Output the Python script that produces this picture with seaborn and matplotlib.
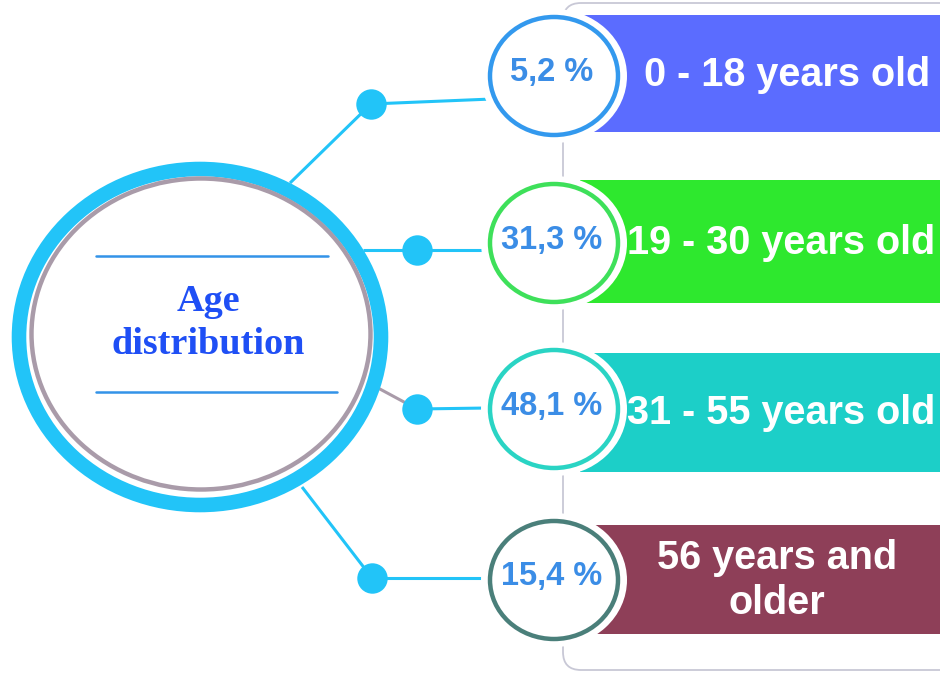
"""
Age distribution infographic - big hub circle, four connectors,
percentage bubbles and coloured label bars.
"""

import matplotlib

matplotlib.use("Agg")

import matplotlib.pyplot as plt
import pandas as pd
import seaborn as sns
from matplotlib.patches import Ellipse, FancyBboxPatch

# -----------------------------------------------------------------------------
# Data
# -----------------------------------------------------------------------------
TITLE = "Age\ndistribution"
AGE_GROUPS = ["0 - 18 years old", "19 - 30 years old", "31 - 55 years old", "56 years and\nolder"]
SHARES = [5.2, 31.3, 48.1, 15.4]
BAR_COLORS = ["#5b6cff", "#2ee82e", "#1ccfc8", "#8e3f58"]
RING_COLORS = ["#3399ee", "#3ee05a", "#2ad4c4", "#4a7f7a"]

# -----------------------------------------------------------------------------
# Layout (pixel space of a 940 x 674 canvas)
# -----------------------------------------------------------------------------
W, H = 940, 674
HUB_BLUE = "#22c4f8"
HUB_GREY = "#a99ba9"
TEXT_BLUE = "#3b8de6"

row_y = [76, 243, 409, 580]
bar_top = [15, 180, 353, 525]
bar_bottom = [132, 303, 472, 634]
label_x = [787, 781, 781, 777]
bubble_x = 554
bar_x0 = 580

# connector: start on hub, dot, end on bubble
connectors = [
    ((290, 183), (371, 104), (492, 99)),
    ((363, 250), (417, 250), (490, 250)),
    ((378, 388), (417, 409), (488, 408)),
    ((302, 487), (372, 578), (490, 578)),
]


def fmt_share(v):
    return f"{v:.1f}".replace(".", ",") + " %"


def main():
    sns.set_theme(style="white")
    plt.rcParams["font.family"] = ["Liberation Sans", "DejaVu Sans"]

    fig = plt.figure(figsize=(W / 100, H / 100), dpi=100)
    ax = fig.add_axes([0, 0, 1, 1])

    # rounded grey frame behind the bars
    frame = FancyBboxPatch(
        (563, 3), 420, 667,
        boxstyle="round,pad=0,rounding_size=18",
        fill=False, edgecolor="#c8c8d6", linewidth=1.3, zorder=1,
    )
    ax.add_patch(frame)

    # label bars
    df = pd.DataFrame({"group": AGE_GROUPS, "share": SHARES, "color": BAR_COLORS})
    for i, row in df.iterrows():
        h = bar_bottom[i] - bar_top[i]
        ax.barh(
            (bar_top[i] + bar_bottom[i]) / 2, W - bar_x0, height=h, left=bar_x0,
            color=row["color"], edgecolor="none", zorder=2,
        )
        ax.text(
            label_x[i], (bar_top[i] + bar_bottom[i]) / 2 + 1, row["group"],
            color="white", fontsize=28.5, fontweight="bold",
            ha="center", va="center", linespacing=1.22, zorder=6,
        )

    # connectors
    for i, (a, d, b) in enumerate(connectors):
        c1 = HUB_GREY if i == 2 else HUB_BLUE
        ax.plot([a[0], d[0]], [a[1], d[1]], color=c1, lw=2.2, zorder=3,
                solid_capstyle="butt")
        ax.plot([d[0], b[0]], [d[1], b[1]], color=HUB_BLUE, lw=2.2, zorder=3,
                solid_capstyle="butt")
    dots = pd.DataFrame({"x": [c[1][0] for c in connectors],
                         "y": [c[1][1] for c in connectors]})
    sns.scatterplot(data=dots, x="x", y="y", s=480, color=HUB_BLUE,
                    linewidth=0, ax=ax, zorder=4, legend=False)

    # percentage bubbles
    for i, row in df.iterrows():
        cy = row_y[i]
        ax.add_patch(Ellipse((bubble_x, cy), 146, 134, facecolor="white",
                             edgecolor="none", zorder=4))
        ax.add_patch(Ellipse((bubble_x, cy), 128, 118, facecolor="white",
                             edgecolor=RING_COLORS[i], linewidth=3.2, zorder=5))
        ax.text(bubble_x - 2, cy - 3, fmt_share(row["share"]), color=TEXT_BLUE,
                fontsize=23.5, fontweight="bold", ha="center", va="center", zorder=6)

    # hub circle
    ax.add_patch(Ellipse((200, 337), 362, 336, facecolor="white",
                         edgecolor=HUB_BLUE, linewidth=10.5, zorder=5))
    ax.add_patch(Ellipse((201, 334), 339, 311, facecolor="none",
                         edgecolor=HUB_GREY, linewidth=3.2, zorder=6))
    ax.plot([96, 328], [256, 256], color="#3393e8", lw=1.8, zorder=6)
    ax.plot([96, 337], [392, 392], color="#3393e8", lw=1.8, zorder=6)
    ax.text(208, 323, TITLE, color="#1f4ff5", fontsize=27.5, fontweight="bold",
            family=["Liberation Serif", "DejaVu Serif"], ha="center", va="center",
            linespacing=1.3, zorder=7)

    ax.set_xlim(0, W)
    ax.set_ylim(H, 0)
    ax.axis("off")

    fig.savefig("out.png", dpi=100)
    plt.close(fig)


if __name__ == "__main__":
    main()
